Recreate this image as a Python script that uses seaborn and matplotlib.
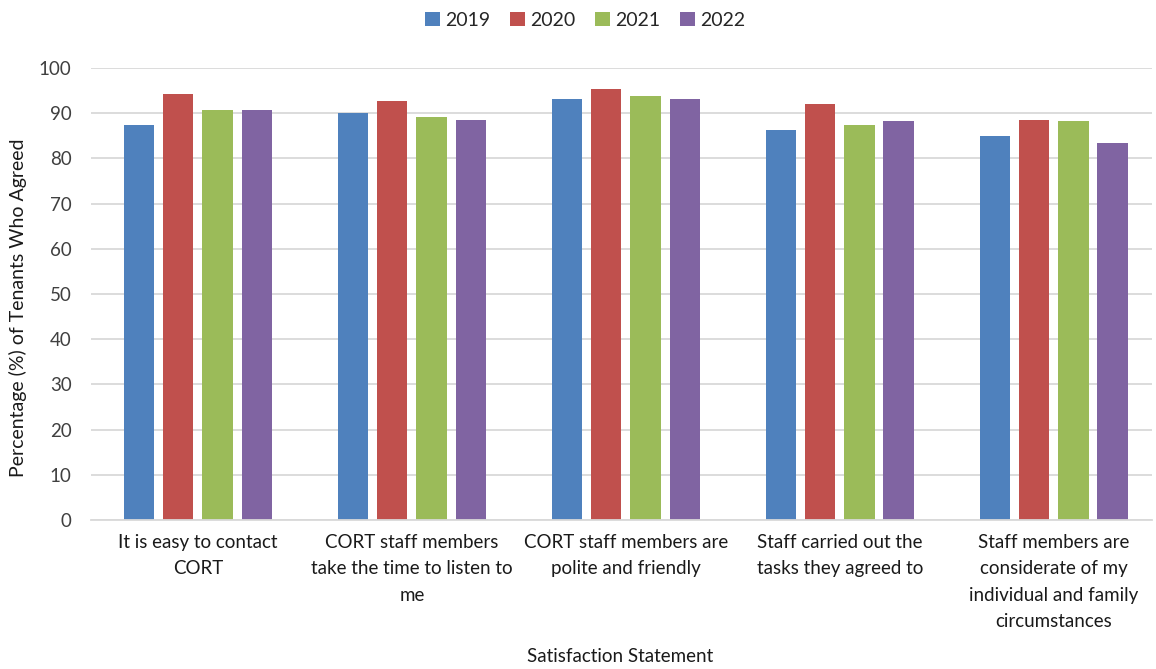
import matplotlib
matplotlib.use("Agg")
import matplotlib.pyplot as plt
import seaborn as sns
import pandas as pd

statements = [
    "It is easy to contact\nCORT",
    "CORT staff members\ntake the time to listen to\nme",
    "CORT staff members are\npolite and friendly",
    "Staff carried out the\ntasks they agreed to",
    "Staff members are\nconsiderate of my\nindividual and family\ncircumstances",
]
years = ["2019", "2020", "2021", "2022"]
pct_2019 = [87.3, 90.1, 93.1, 86.2, 85.0]
pct_2020 = [94.3, 92.7, 95.4, 92.1, 88.5]
pct_2021 = [90.8, 89.2, 93.9, 87.3, 88.2]
pct_2022 = [90.8, 88.5, 93.1, 88.2, 83.4]
colors = ["#4F81BD", "#C0504D", "#9BBB59", "#8064A2"]

rows = []
for yr, vals in zip(years, [pct_2019, pct_2020, pct_2021, pct_2022]):
    for st, v in zip(statements, vals):
        rows.append({"Statement": st, "Year": yr, "Pct": v})
df = pd.DataFrame(rows)

sns.set_theme(style="white")
plt.rcParams["font.family"] = ["Lato", "DejaVu Sans"]

fig = plt.figure(figsize=(11.56, 6.69), dpi=100)
ax = fig.add_axes([0.0787, 0.2227, 0.9178, 0.6756])

sns.barplot(data=df, x="Statement", y="Pct", hue="Year", order=statements,
            hue_order=years, palette=colors, width=0.73, gap=0.23,
            edgecolor="none", linewidth=0, ax=ax, legend=True, saturation=1)

ax.set_ylim(0, 100)
ax.set_xlim(-0.5, 4.458)
ax.set_yticks(range(0, 101, 10))
ax.set_xticks(range(len(statements)))
ax.set_xticklabels(statements, linespacing=1.68, color="#1a1a1a", fontsize=13.5)
ax.yaxis.grid(True, color="#D9D9D9", linewidth=1.3)
ax.set_axisbelow(True)
for s in ["top", "right", "left"]:
    ax.spines[s].set_visible(False)
ax.spines["bottom"].set_color("#D9D9D9")
ax.spines["bottom"].set_linewidth(1.3)
ax.tick_params(axis="both", length=0)
ax.tick_params(axis="y", pad=14, labelsize=13.5, labelcolor="#404040")
ax.tick_params(axis="x", pad=10)

ax.set_xlabel("Satisfaction Statement", fontsize=13.5, color="#1a1a1a")
ax.set_ylabel("Percentage (%) of Tenants Who Agreed", fontsize=14, color="#1a1a1a")
ax.xaxis.set_label_coords(0.4986, -0.283)
ax.yaxis.set_label_coords(-0.069, 0.469)
ax.yaxis.label.set_verticalalignment("center")

leg = ax.legend(loc="center", bbox_to_anchor=(0.466, 1.106), ncol=4, frameon=False,
                fontsize=14, handlelength=0.75, handleheight=0.75, handletextpad=0.3,
                columnspacing=1.0, title=None)

fig.savefig("out.png", dpi=100)
